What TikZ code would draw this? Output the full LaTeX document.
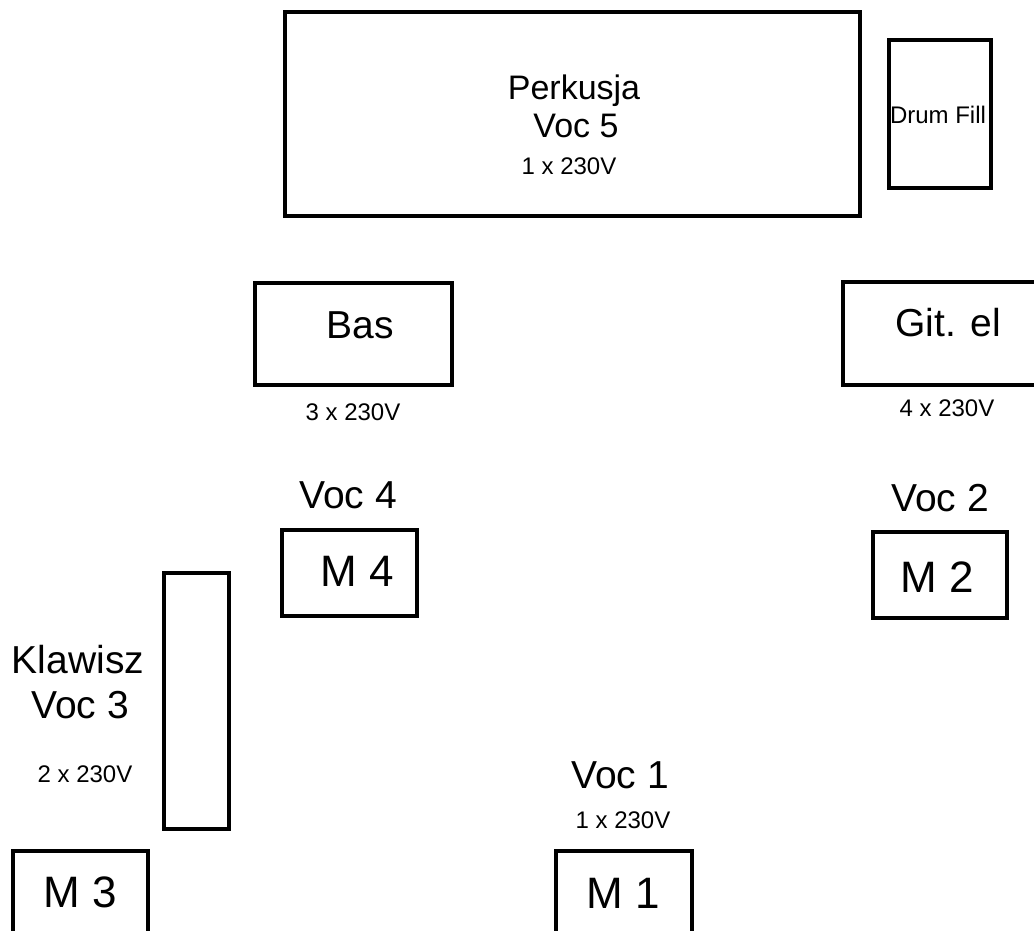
\documentclass[tikz,border=0pt]{standalone}
\usepackage{fontspec}
\setmainfont{Liberation Sans}
\usetikzlibrary{positioning}
\tikzset{
    stagebox/.style={draw, line width=3.5pt, inner sep=0pt},
    lbl/.style={inner sep=0pt, text depth=0pt},
    lblbig/.style={lbl, text height=27.9pt, font=\fontsize{39}{44}\selectfont},
    lblmon/.style={lbl, text height=31.5pt, font=\fontsize{44}{50}\selectfont},
    lblmid/.style={lbl, text height=24.3pt, font=\fontsize{34}{40}\selectfont},
    lblsmall/.style={lbl, text height=17.2pt, font=\fontsize{24}{28}\selectfont},
}

\begin{document}
\begin{tikzpicture}[x=1pt, y=-1pt]
    \clip (0,0) rectangle (1034,931);
    \fill[white] (0,0) rectangle (1034,931);

    % boxes
    \node[stagebox, minimum width=575pt, minimum height=204pt] (perkusja) at (572.5, 114) {};
    \node[stagebox, minimum width=102pt, minimum height=148pt] (drumfill) at (940, 114) {};
    \node[stagebox, minimum width=197pt, minimum height=102pt] (bas) at (353.5, 334) {};
    \node[stagebox, minimum width=197pt, minimum height=103pt] (gitel) at (941.5, 333.5) {};
    \node[stagebox, minimum width=135pt, minimum height=86pt] (m4) at (349.5, 573) {};
    \node[stagebox, minimum width=134pt, minimum height=86pt] (m2) at (940, 575) {};
    \node[stagebox, minimum width=65pt, minimum height=256pt] (klawisz) at (196.5, 701) {};
    \node[stagebox, minimum width=135pt, minimum height=90pt] (m3) at (80.5, 896) {};
    \node[stagebox, minimum width=136pt, minimum height=90pt] (m1) at (624, 896) {};

    % labels
    \node[lblmid] (perkusjaT) at (574, 87) {Perkusja};
    \node[lblmid] (voc5T) at (576, 125) {Voc 5};
    \node[lblsmall] (perkusjaV) at (569, 166) {1 x 230V};
    \node[lblsmall] (drumfillT) at (938, 115) {Drum Fill};

    \node[lblbig] (basT) at (360, 325) {Bas};
    \node[lblsmall] (basV) at (353, 412) {3 x 230V};
    \node[lblbig] (gitelT) at (948, 323) {Git. el};
    \node[lblsmall] (gitelV) at (947, 408) {4 x 230V};

    \node[lblbig] (voc4T) at (348, 495) {Voc 4};
    \node[lblmon] (m4T) at (357, 571) {M 4};
    \node[lblbig] (voc2T) at (940, 498) {Voc 2};
    \node[lblmon] (m2T) at (937, 577) {M 2};

    \node[lblbig] (klawiszT) at (78, 660) {Klawisz};
    \node[lblbig] (voc3T) at (80, 705) {Voc 3};
    \node[lblsmall] (klawiszV) at (85, 774) {2 x 230V};

    \node[lblbig] (voc1T) at (620, 775) {Voc 1};
    \node[lblsmall] (voc1V) at (623, 820) {1 x 230V};
    \node[lblmon] (m3T) at (80, 892) {M 3};
    \node[lblmon] (m1T) at (623, 893) {M 1};
\end{tikzpicture}
\end{document}
